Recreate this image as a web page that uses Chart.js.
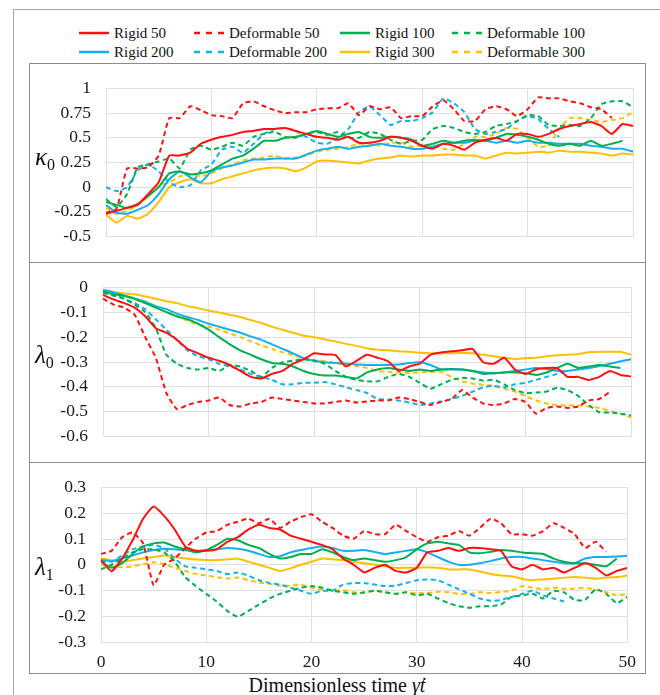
<!DOCTYPE html>
<html><head><meta charset="utf-8">
<script src="https://cdn.jsdelivr.net/npm/chart.js@4.4.0/dist/chart.umd.min.js"></script>
<style>
html,body{margin:0;padding:0;background:#fff;}
body{width:660px;height:695px;overflow:hidden;color:#111;}
#wrap, #wrap div, #wrap i, #wrap sub, #wrap span{font-family:"Liberation Serif","Times New Roman",serif !important;}
#wrap{position:relative;width:660px;height:695px;overflow:hidden;}
.frame{position:absolute;left:13px;top:9px;width:720px;height:720px;border:1.5px solid #a8a8a8;box-sizing:border-box;}
.box{position:absolute;left:29px;width:617px;border:1.5px solid #8c8c8c;box-sizing:border-box;}
.cv{position:absolute;left:29px;width:617px;}
.ylab{position:absolute;font-size:25px;line-height:25px;transform:translateY(-50%);white-space:nowrap;}
.ylab i{font-style:italic;}
.ylab sub{font-size:16px;vertical-align:-5px;font-style:normal;}
.leg{position:absolute;font-size:15px;line-height:18px;white-space:nowrap;transform:translateY(-50%);}
.legline{position:absolute;}
#xtitle{position:absolute;left:0;width:674px;top:674px;text-align:center;font-size:20px;line-height:22px;}
</style></head>
<body><div id="wrap">
<div class="frame"></div>
<div class="box" style="top:63px;height:200px"></div>
<div class="box" style="top:262px;height:201px"></div>
<div class="box" style="top:462px;height:212px"></div>
<div class="cv" style="top:63px;height:199px"><canvas id="c1"></canvas></div>
<div class="cv" style="top:262px;height:200px"><canvas id="c2"></canvas></div>
<div class="cv" style="top:462px;height:211px"><canvas id="c3"></canvas></div>
<div class="ylab" style="left:35px;top:160px"><i>κ</i><sub>0</sub></div>
<div class="ylab" style="left:35px;top:358px"><i>λ</i><sub>0</sub></div>
<div class="ylab" style="left:35px;top:570px"><i>λ</i><sub>1</sub></div>
<div id="legend"></div>
<div id="xtitle">Dimensionless time <i>γ̇t</i></div>
</div>
<script>
// ---------- data ----------
const times = [0,1,2,3,4,5,6,7,8,9,10,11,12,13,14,15,16,17,18,19,20,21,22,23,24,25,26,27,28,29,30,31,32,33,34,35,36,37,38,39,40,41,42,43,44,45,46,47,48,49,50];
const seriesNames = ["Rigid 50","Deformable 50","Rigid 100","Deformable 100","Rigid 200","Deformable 200","Rigid 300","Deformable 300"];
const xTicks = [0,10,20,30,40,50];

// kappa_0
const k0_rigid50 = [-0.27,-0.24,-0.21,-0.18,-0.07,0.05,0.32,0.32,0.35,0.44,0.48,0.51,0.53,0.56,0.57,0.59,0.59,0.6,0.57,0.54,0.51,0.5,0.48,0.51,0.45,0.45,0.47,0.51,0.5,0.47,0.42,0.39,0.44,0.42,0.38,0.45,0.48,0.5,0.47,0.54,0.54,0.51,0.54,0.59,0.62,0.64,0.66,0.62,0.54,0.64,0.62];
const k0_deform50 = [-0.26,-0.22,0.19,0.19,0.2,0.32,0.7,0.7,0.82,0.78,0.73,0.72,0.7,0.85,0.87,0.82,0.78,0.75,0.76,0.76,0.79,0.8,0.8,0.85,0.73,0.82,0.79,0.81,0.7,0.72,0.72,0.82,0.88,0.79,0.67,0.67,0.79,0.82,0.79,0.72,0.79,0.91,0.9,0.9,0.87,0.85,0.81,0.79,0.7,null,null];
const k0_rigid100 = [-0.15,-0.18,-0.21,-0.17,-0.09,0.0,0.14,0.16,0.13,0.14,0.17,0.23,0.29,0.32,0.39,0.47,0.47,0.5,0.51,0.54,0.57,0.54,0.51,0.54,0.56,0.51,0.5,0.51,0.5,0.48,0.42,0.44,0.47,0.45,0.47,0.48,0.47,0.5,0.54,0.53,0.51,0.48,0.44,0.42,0.44,0.42,0.47,0.42,0.44,0.47,null];
const k0_deform100 = [-0.12,-0.2,-0.07,0.2,0.23,0.26,0.29,0.19,0.38,0.42,0.38,0.41,0.45,0.42,0.51,0.54,0.56,0.51,0.5,0.54,0.56,0.53,0.56,0.5,0.5,0.56,0.54,0.48,0.44,0.47,0.48,0.59,0.62,0.6,0.56,0.54,0.56,0.62,0.64,0.67,0.73,0.72,0.63,0.62,0.63,0.62,0.7,0.84,0.87,0.87,0.81];
const k0_rigid200 = [-0.18,-0.26,-0.27,-0.23,-0.18,-0.07,0.08,0.16,0.1,0.05,0.16,0.2,0.22,0.25,0.28,0.28,0.29,0.29,0.29,0.33,0.37,0.39,0.41,0.39,0.41,0.42,0.44,0.42,0.41,0.39,0.39,0.41,0.44,0.45,0.45,0.47,0.47,0.45,0.47,0.45,0.47,0.45,0.45,0.44,0.44,0.44,0.42,0.41,0.39,0.39,0.36];
const k0_deform200 = [0.0,-0.04,0.0,0.17,0.23,0.16,0.05,0.0,0.02,0.17,0.23,0.38,0.41,0.35,0.44,0.54,0.59,0.6,0.57,0.51,0.45,0.44,0.5,0.59,0.76,0.82,0.73,0.63,0.67,0.67,0.7,0.76,0.9,0.85,0.76,0.59,0.54,0.56,0.59,0.67,0.72,0.69,0.59,0.51,null,null,null,null,null,null,null];
const k0_rigid300 = [-0.28,-0.36,-0.29,-0.32,-0.27,-0.15,0.0,0.05,0.08,0.04,0.04,0.08,0.11,0.14,0.17,0.19,0.2,0.19,0.16,0.2,0.26,0.27,0.26,0.25,0.24,0.27,0.29,0.3,0.32,0.31,0.32,0.32,0.33,0.33,0.32,0.32,0.29,0.32,0.35,0.34,0.35,0.36,0.35,0.37,0.36,0.36,0.35,0.34,0.32,0.34,0.33];
const k0_deform300 = [-0.21,-0.27,-0.24,-0.18,-0.095,0.01,0.05,0.11,0.13,0.11,0.14,0.19,0.23,0.27,0.29,0.3,0.32,0.29,0.3,0.32,0.36,0.38,0.39,0.41,0.44,0.44,0.42,0.45,0.45,0.41,0.42,0.42,0.39,0.38,0.44,0.51,0.51,0.54,0.6,0.59,0.5,0.41,0.42,0.59,0.7,0.7,0.68,0.66,0.68,0.7,0.76];

// lambda_0
const l0_rigid50 = [-0.03,-0.048,-0.063,-0.081,-0.116,-0.164,-0.182,-0.211,-0.247,-0.265,-0.283,-0.295,-0.312,-0.336,-0.36,-0.366,-0.348,-0.336,-0.307,-0.289,-0.265,-0.27,-0.271,-0.318,-0.295,-0.271,-0.283,-0.297,-0.336,-0.318,-0.307,-0.271,-0.262,-0.257,-0.253,-0.247,-0.301,-0.307,-0.283,-0.33,-0.348,-0.33,-0.324,-0.324,-0.36,-0.36,-0.372,-0.36,-0.336,-0.352,-0.358];
const l0_deform50 = [-0.045,-0.069,-0.081,-0.11,-0.2,-0.283,-0.425,-0.49,-0.473,-0.461,-0.455,-0.443,-0.473,-0.479,-0.467,-0.461,-0.443,-0.449,-0.455,-0.461,-0.467,-0.467,-0.461,-0.455,-0.463,-0.459,-0.455,-0.455,-0.443,-0.449,-0.461,-0.473,-0.461,-0.449,-0.413,-0.443,-0.467,-0.473,-0.467,-0.449,-0.461,-0.508,-0.485,-0.479,-0.485,-0.479,-0.455,-0.449,-0.42,null,null];
const l0_rigid100 = [-0.015,-0.027,-0.033,-0.045,-0.063,-0.081,-0.099,-0.116,-0.128,-0.146,-0.17,-0.2,-0.229,-0.253,-0.271,-0.289,-0.304,-0.307,-0.318,-0.336,-0.348,-0.354,-0.354,-0.36,-0.366,-0.342,-0.33,-0.324,-0.33,-0.336,-0.33,-0.336,-0.33,-0.328,-0.33,-0.336,-0.348,-0.345,-0.342,-0.342,-0.345,-0.352,-0.342,-0.324,-0.307,-0.324,-0.318,-0.312,-0.318,-0.324,null];
const l0_deform100 = [-0.021,-0.033,-0.045,-0.069,-0.099,-0.164,-0.271,-0.307,-0.324,-0.33,-0.324,-0.336,-0.312,-0.318,-0.336,-0.36,-0.324,-0.301,-0.295,-0.289,-0.295,-0.307,-0.336,-0.36,-0.372,-0.378,-0.378,-0.36,-0.348,-0.36,-0.384,-0.408,-0.39,-0.372,-0.364,-0.366,-0.375,-0.372,-0.39,-0.413,-0.425,-0.423,-0.419,-0.404,-0.413,-0.437,-0.473,-0.503,-0.503,-0.508,-0.514];
const l0_rigid200 = [-0.0095,-0.019,-0.033,-0.045,-0.057,-0.075,-0.087,-0.105,-0.119,-0.131,-0.146,-0.158,-0.17,-0.182,-0.197,-0.211,-0.229,-0.247,-0.265,-0.285,-0.295,-0.301,-0.304,-0.307,-0.31,-0.312,-0.312,-0.312,-0.31,-0.304,-0.301,-0.312,-0.33,-0.33,-0.33,-0.336,-0.342,-0.345,-0.342,-0.336,-0.33,-0.324,-0.328,-0.336,-0.336,-0.33,-0.324,-0.316,-0.307,-0.297,-0.289];
const l0_deform200 = [-0.015,-0.027,-0.045,-0.063,-0.087,-0.128,-0.17,-0.211,-0.253,-0.277,-0.289,-0.307,-0.318,-0.33,-0.348,-0.36,-0.372,-0.39,-0.39,-0.384,-0.384,-0.381,-0.39,-0.402,-0.413,-0.425,-0.449,-0.451,-0.455,-0.463,-0.473,-0.467,-0.459,-0.449,-0.437,-0.419,-0.402,-0.396,-0.402,-0.39,-0.384,-0.372,-0.36,-0.348,-0.333,null,null,null,null,null,null];
const l0_rigid300 = [-0.012,-0.019,-0.024,-0.027,-0.036,-0.045,-0.055,-0.063,-0.075,-0.083,-0.093,-0.101,-0.11,-0.119,-0.131,-0.143,-0.158,-0.17,-0.182,-0.194,-0.2,-0.209,-0.217,-0.227,-0.235,-0.245,-0.251,-0.253,-0.257,-0.259,-0.263,-0.265,-0.265,-0.265,-0.263,-0.265,-0.271,-0.277,-0.283,-0.289,-0.285,-0.283,-0.277,-0.273,-0.271,-0.268,-0.261,-0.259,-0.259,-0.259,-0.271];
const l0_deform300 = [-0.012,-0.021,-0.033,-0.048,-0.063,-0.081,-0.099,-0.116,-0.134,-0.15,-0.158,-0.17,-0.185,-0.2,-0.217,-0.233,-0.247,-0.261,-0.273,-0.283,-0.292,-0.297,-0.304,-0.312,-0.316,-0.324,-0.336,-0.34,-0.342,-0.345,-0.342,-0.34,-0.339,-0.36,-0.378,-0.387,-0.392,-0.396,-0.408,-0.419,-0.437,-0.455,-0.467,-0.473,-0.475,-0.475,-0.479,-0.485,-0.497,-0.508,-0.523];

// lambda_1
const l1_rigid50 = [0.018,-0.025,0.024,0.095,0.179,0.226,0.19,0.137,0.071,0.054,0.054,0.06,0.089,0.107,0.137,0.155,0.143,0.137,0.113,0.101,0.089,0.077,0.06,0.024,0.0,-0.03,-0.012,0.0,-0.024,-0.03,-0.012,0.048,0.054,0.065,0.054,0.065,0.065,0.06,0.054,-0.006,-0.018,0.0,-0.018,-0.012,-0.03,-0.012,0.006,-0.012,-0.042,-0.024,-0.012];
const l1_deform50 = [0.042,0.054,0.107,0.125,0.083,-0.08,0.0,0.024,0.065,0.101,0.125,0.131,0.155,0.167,0.179,0.161,0.179,0.143,0.167,0.185,0.196,0.167,0.143,0.113,0.101,0.131,0.119,0.119,0.155,0.131,0.107,0.089,0.107,0.113,0.131,0.113,0.143,0.179,0.161,0.119,0.119,0.113,0.131,0.161,0.143,0.119,0.065,0.089,0.05,null,null];
const l1_rigid100 = [0.012,-0.012,0.006,0.042,0.071,0.083,0.086,0.071,0.06,0.048,0.057,0.077,0.101,0.095,0.077,0.065,0.042,0.024,0.03,0.042,0.042,0.06,0.048,0.03,0.018,0.024,0.018,0.012,0.018,0.03,0.06,0.083,0.089,0.083,0.077,0.048,0.045,0.05,0.057,0.054,0.048,0.045,0.042,0.024,0.012,0.006,0.006,0.0,-0.006,0.024,null];
const l1_deform100 = [-0.018,0.0,0.024,0.048,0.06,0.06,0.048,0.012,-0.048,-0.083,-0.113,-0.143,-0.179,-0.202,-0.179,-0.155,-0.131,-0.113,-0.101,-0.089,-0.083,-0.089,-0.101,-0.107,-0.113,-0.107,-0.101,-0.107,-0.113,-0.107,-0.119,-0.113,-0.131,-0.149,-0.161,-0.167,-0.161,-0.161,-0.155,-0.125,-0.119,-0.113,-0.131,-0.101,-0.107,-0.137,-0.137,-0.095,-0.113,-0.149,-0.125];
const l1_rigid200 = [0.018,0.014,0.024,0.036,0.048,0.057,0.062,0.06,0.056,0.054,0.057,0.06,0.065,0.062,0.054,0.042,0.03,0.033,0.048,0.057,0.065,0.071,0.065,0.054,0.054,0.057,0.05,0.042,0.048,0.054,0.06,0.048,0.03,0.012,0.0,0.0,0.006,0.014,0.024,0.03,0.03,0.024,0.018,0.012,0.006,0.006,0.024,0.03,0.03,0.032,0.035];
const l1_deform200 = [0.012,0.012,0.036,0.06,0.071,0.077,0.065,0.024,-0.006,-0.012,-0.018,-0.024,-0.036,-0.03,-0.042,-0.06,-0.071,-0.077,-0.089,-0.101,-0.113,-0.101,-0.101,-0.077,-0.071,-0.071,-0.077,-0.083,-0.081,-0.071,-0.06,-0.057,-0.06,-0.077,-0.095,-0.113,-0.131,-0.14,-0.137,-0.125,-0.113,-0.101,-0.119,-0.131,-0.143,null,null,null,null,null,null];
const l1_rigid300 = [0.024,0.018,0.012,0.018,0.024,0.03,0.036,0.03,0.024,0.02,0.018,0.018,0.021,0.024,0.012,0.0,-0.012,-0.024,-0.014,0.0,0.012,0.024,0.021,0.018,0.012,0.006,0.0,-0.006,-0.012,-0.012,-0.012,-0.01,-0.012,-0.018,-0.018,-0.018,-0.026,-0.036,-0.042,-0.045,-0.054,-0.06,-0.057,-0.054,-0.05,-0.048,-0.05,-0.054,-0.05,-0.048,-0.042];
const l1_deform300 = [0.0,-0.006,-0.01,-0.006,0.002,0.01,0.002,-0.012,-0.024,-0.036,-0.042,-0.048,-0.054,-0.05,-0.06,-0.069,-0.074,-0.081,-0.081,-0.077,-0.089,-0.095,-0.101,-0.099,-0.107,-0.11,-0.101,-0.107,-0.113,-0.107,-0.11,-0.11,-0.105,-0.107,-0.113,-0.113,-0.107,-0.11,-0.105,-0.101,-0.083,-0.089,-0.095,-0.089,-0.093,-0.093,-0.089,-0.097,-0.107,-0.119,-0.113];

// ---------- styles ----------
const palette = {"50":"#ff1010","100":"#00b050","200":"#12b0ef","300":"#ffc000"};
function styleFor(name){
  const num = name.split(" ")[1];
  return {color: palette[num], dashed: name.startsWith("Deformable")};
}

const panels = [
  {id:"c1", series:[k0_rigid50,k0_deform50,k0_rigid100,k0_deform100,k0_rigid200,k0_deform200,k0_rigid300,k0_deform300],
   yMin:-0.5, yMax:1, yStep:0.25, yWidth:77, padRight:13, xHeight:18, showX:false},
  {id:"c2", series:[l0_rigid50,l0_deform50,l0_rigid100,l0_deform100,l0_rigid200,l0_deform200,l0_rigid300,l0_deform300],
   yMin:-0.6, yMax:0, yStep:0.1, yWidth:74, padRight:15, xHeight:20, showX:false},
  {id:"c3", series:[l1_rigid50,l1_deform50,l1_rigid100,l1_deform100,l1_rigid200,l1_deform200,l1_rigid300,l1_deform300],
   yMin:-0.3, yMax:0.3, yStep:0.1, yWidth:72, padRight:17, xHeight:31, showX:true}
];

const serifFamily = "'Liberation Serif', serif";
const tickFont = {family: serifFamily, size:17.5};
const gridColor = "#e0e0e0";
const fmt = v => String(Math.round(v * 100) / 100);

function buildCharts(){
  Chart.defaults.font.family = serifFamily;
  panels.forEach(p => {
    const datasets = seriesNames.map((name, i) => {
      const st = styleFor(name);
      return {
        label: name,
        data: times.map((t, j) => ({x: t, y: p.series[i][j]})),
        borderColor: st.color,
        backgroundColor: st.color,
        borderWidth: 2,
        borderDash: st.dashed ? [5,3.5] : [],
        pointRadius: 0,
        tension: 0.15,
        spanGaps: false,
        fill: false
      };
    });
    new Chart(document.getElementById(p.id), {
      type: "line",
      data: {datasets},
      options: {
        responsive: true,
        maintainAspectRatio: false,
        animation: false,
        layout: {padding: {top: 12, right: p.padRight, bottom: 0, left: 0}},
        plugins: {legend: {display: false}, tooltip: {enabled: false}},
        scales: {
          x: {
            type: "linear", min: 0, max: 50,
            afterBuildTicks: s => { s.ticks = xTicks.map(v => ({value: v})); },
            grid: {color: gridColor, lineWidth: 1, drawTicks: false},
            border: {color: gridColor, width: 1},
            ticks: {display: p.showX, font: tickFont, color: "#1a1a1a", padding: 10, maxRotation: 0, callback: fmt},
            afterFit: s => { s.height = p.xHeight; }
          },
          y: {
            min: p.yMin, max: p.yMax,
            ticks: {stepSize: p.yStep, font: tickFont, color: "#1a1a1a", padding: 15, callback: fmt},
            grid: {color: gridColor, lineWidth: 1, drawTicks: false},
            border: {color: gridColor, width: 1},
            afterFit: s => { s.width = p.yWidth; }
          }
        }
      }
    });
  });
}

// ---------- legend (HTML, built from series names/styles) ----------
const legend = document.getElementById("legend");
const legTextX = [114, 229, 375, 487];
const legRowY = [33, 52];
seriesNames.forEach((name, i) => {
  const st = styleFor(name);
  const idxRow = Math.floor(i / 4), idxCol = i % 4;
  const tx = legTextX[idxCol], ty = legRowY[idxRow];
  const svgNS = "http://www.w3.org/2000/svg";
  const svg = document.createElementNS(svgNS, "svg");
  svg.setAttribute("width", "32"); svg.setAttribute("height", "6");
  svg.setAttribute("class", "legline");
  svg.style.left = (tx - 36) + "px"; svg.style.top = (ty - 3) + "px";
  const ln = document.createElementNS(svgNS, "line");
  ln.setAttribute("x1", "1"); ln.setAttribute("x2", "31");
  ln.setAttribute("y1", "3"); ln.setAttribute("y2", "3");
  ln.setAttribute("stroke", st.color); ln.setAttribute("stroke-width", "2.5");
  if (st.dashed) ln.setAttribute("stroke-dasharray", "6 6");
  svg.appendChild(ln);
  legend.appendChild(svg);
  const d = document.createElement("div");
  d.className = "leg"; d.textContent = name;
  d.style.left = tx + "px"; d.style.top = ty + "px";
  legend.appendChild(d);
});

if (document.fonts && document.fonts.load) {
  Promise.all([document.fonts.load("17px 'Liberation Serif'"), document.fonts.load("italic 20px 'Liberation Serif'")])
    .then(buildCharts, buildCharts);
} else {
  buildCharts();
}
</script>
</body></html>
